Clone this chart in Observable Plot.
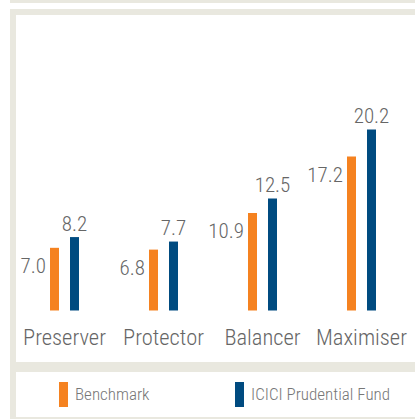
<!DOCTYPE html>
<html>
<head>
<meta charset="utf-8">
<script src="https://cdn.jsdelivr.net/npm/d3@7"></script>
<script src="https://cdn.jsdelivr.net/npm/@observablehq/plot@0.6"></script>
<style>
  html, body { margin: 0; padding: 0; background: #fff; }
  #wrap { position: relative; width: 415px; height: 419px; overflow: hidden;
          font-family: "Roboto Condensed", Roboto, sans-serif; font-weight: 300; }
  .frame { position: absolute; background: #e9e8df; }
  #chart { position: absolute; left: 0; top: 15px; }
  .legend-item { position: absolute; top: 382px; height: 25px; display: flex; align-items: center; white-space: nowrap; }
  .sw { width: 9px; height: 25px; margin-right: 7px; flex: none; }
  .lt { font-size: 17px; color: #777; line-height: 25px; }
</style>
</head>
<body>
<div id="wrap">
  <div id="chart"></div>
  <div class="frame" style="left:10px;top:0;width:405px;height:3px"></div>
  <div class="frame" style="left:10px;top:9px;width:405px;height:6px"></div>
  <div class="frame" style="left:10px;top:9px;width:6px;height:410px"></div>
  <div class="frame" style="left:16px;top:362px;width:399px;height:10px"></div>
  <div class="frame" style="left:16px;top:417px;width:399px;height:2px"></div>
  <div id="legend"></div>
</div>
<script>
const categories = ["Preserver", "Protector", "Balancer", "Maximiser"];
const benchmark = [7.0, 6.8, 10.9, 17.2];
const fund = [8.2, 7.7, 12.5, 20.2];
const seriesNames = ["Benchmark", "ICICI Prudential Fund"];
const colors = ["#f58220", "#004b80"];

const data = categories.map((c, i) => ({category: c, benchmark: benchmark[i], fund: fund[i]}));
const fmt = d3.format(".1f");

const plot = Plot.plot({
  width: 415,
  height: 347,
  marginLeft: 63,
  marginRight: 54,
  marginTop: 0,
  marginBottom: 51.5,
  x: {type: "point", domain: categories, padding: 0, label: null},
  y: {domain: [0, 33], axis: null},
  style: {fontFamily: "'Roboto Condensed', Roboto, sans-serif", fontWeight: 300, background: "transparent"},
  marks: [
    Plot.ruleX(data, {x: "category", y1: 0, y2: "benchmark", stroke: colors[0], strokeWidth: 9, dx: -10}),
    Plot.ruleX(data, {x: "category", y1: 0, y2: "fund", stroke: colors[1], strokeWidth: 9, dx: 10}),
    Plot.text(data, {x: "category", y: "benchmark", text: d => fmt(d.benchmark), textAnchor: "end", dx: -18.5, dy: 18, fontSize: 21, fill: "#666"}),
    Plot.text(data, {x: "category", y: "fund", text: d => fmt(d.fund), textAnchor: "middle", dx: 10, dy: -13.7, fontSize: 21, fill: "#666"}),
    Plot.axisX({tickSize: 0, tickPadding: 18, fontSize: 22.5, color: "#666", label: null})
  ]
});
document.getElementById("chart").appendChild(plot);

const legend = document.getElementById("legend");
const lefts = [59, 235];
seriesNames.forEach((name, i) => {
  const item = document.createElement("div");
  item.className = "legend-item";
  item.style.left = lefts[i] + "px";
  item.innerHTML = `<div class="sw" style="background:${colors[i]}"></div><span class="lt">${name}</span>`;
  legend.appendChild(item);
});
</script>
</body>
</html>
